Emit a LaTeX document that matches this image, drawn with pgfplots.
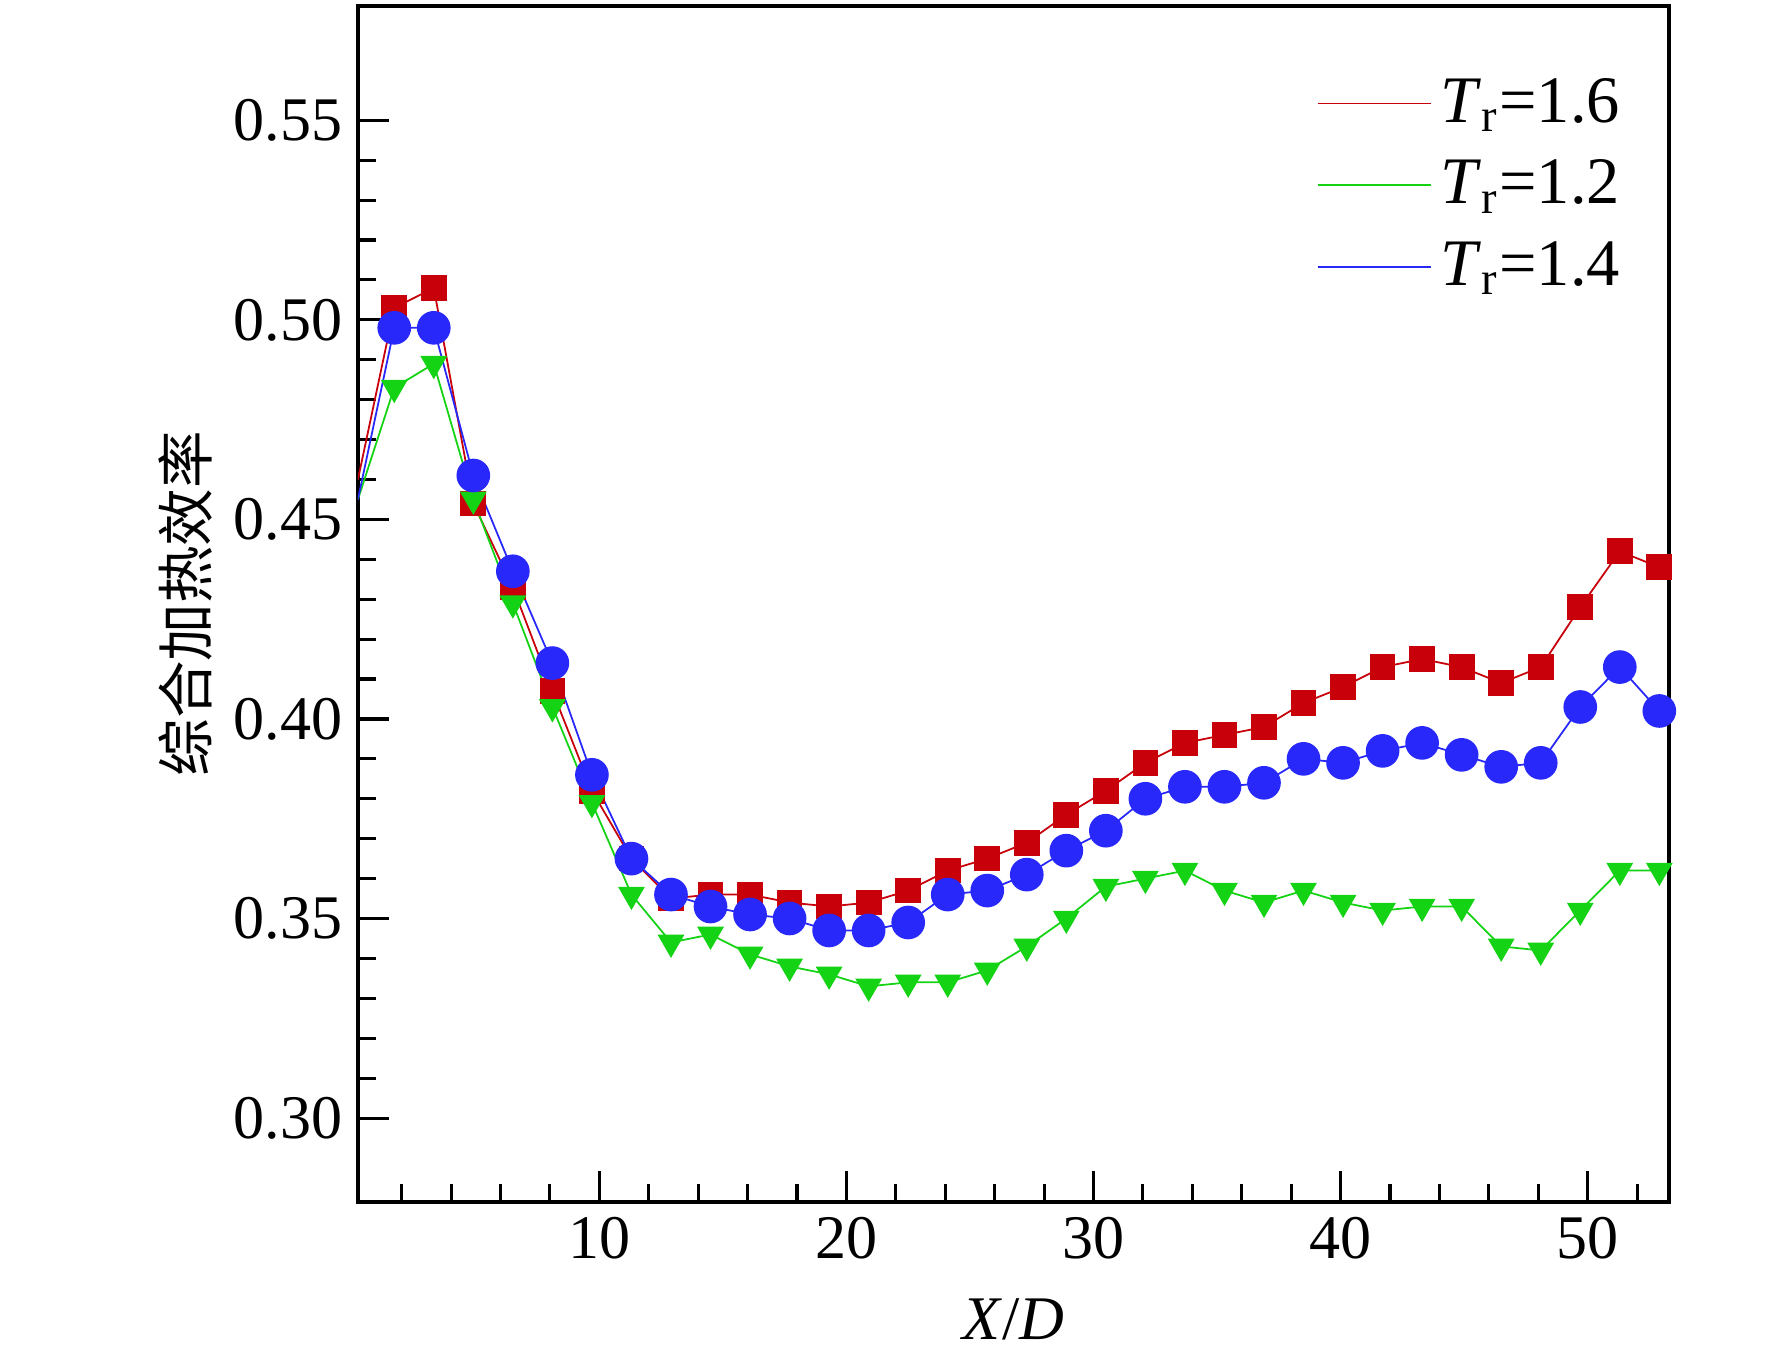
\documentclass[border=0pt]{standalone}
\usepackage{fontspec}
\setmainfont{Liberation Serif}
\newfontfamily\cjk{Noto Sans CJK SC}
\usepackage{pgfplots}
\pgfplotsset{compat=1.18}
\definecolor{cr}{RGB}{200,0,10}
\definecolor{cg}{RGB}{20,210,20}
\definecolor{cb}{RGB}{40,40,250}
\begin{document}
\begin{tikzpicture}
\begin{axis}[name=ax,
  width=296pt,height=270pt,scale only axis,
  xmin=0.23,xmax=53.3,ymin=0.279,ymax=0.5787,
  xtick={10,20,30,40,50},
  minor xtick={2,4,6,8,12,14,16,18,22,24,26,28,32,34,36,38,42,44,46,48,52},
  ytick={0.30,0.35,0.40,0.45,0.50,0.55},minor y tick num=4,
  yticklabel style={/pgf/number format/.cd,fixed,fixed zerofill,precision=2},
  /pgf/number format/assume math mode=true,
  tick align=inside,tick style={black,line width=0.7pt},
  major tick length=7pt,minor tick length=4pt,
  axis line style={line width=0.9pt},
  xtick pos=bottom,ytick pos=left,
  ticklabel style={font=\fontsize{14}{16}\selectfont},
  xlabel={\textit{X}/\textit{D}},xlabel style={font=\fontsize{14}{16}\selectfont,yshift=-2pt},
  ylabel={\cjk 综合加热效率},ylabel style={font=\fontsize{13}{16}\selectfont,yshift=-2pt},
  legend style={draw=none,fill=none,at={(0.98,0.955)},anchor=north east,font=\fontsize{15}{17}\selectfont,row sep=3pt},
  legend cell align=left,
  legend image code/.code={\draw[#1,line width=0.4pt] (0cm,0cm) -- (0.9cm,0cm); \draw[#1,only marks] plot coordinates {(0.45cm,0cm)};},
]
\addplot[cr,line width=0.4pt,mark=square*,mark size=2.7pt,mark options={fill=cr},mark phase=2] coordinates {
(0.23,0.460)(1.7,0.503)(3.3,0.508)(4.9,0.454)(6.5,0.433)(8.1,0.407)(9.7,0.382)(11.3,0.365)(12.9,0.355)(14.5,0.356)(16.1,0.356)(17.7,0.354)(19.3,0.353)(20.9,0.354)(22.5,0.357)(24.1,0.362)(25.7,0.365)(27.3,0.369)(28.9,0.376)(30.5,0.382)(32.1,0.389)(33.7,0.394)(35.3,0.396)(36.9,0.398)(38.5,0.404)(40.1,0.408)(41.7,0.413)(43.3,0.415)(44.9,0.413)(46.5,0.409)(48.1,0.413)(49.7,0.428)(51.3,0.442)(52.9,0.438)};
\addlegendentry{\textit{T}\textsubscript{r}=1.6}
\addplot[cg,line width=0.4pt,mark=triangle*,mark size=3.1pt,mark options={fill=cg,rotate=180},mark phase=2] coordinates {
(0.23,0.455)(1.7,0.483)(3.3,0.489)(4.9,0.455)(6.5,0.429)(8.1,0.403)(9.7,0.379)(11.3,0.356)(12.9,0.344)(14.5,0.346)(16.1,0.341)(17.7,0.338)(19.3,0.336)(20.9,0.333)(22.5,0.334)(24.1,0.334)(25.7,0.337)(27.3,0.343)(28.9,0.350)(30.5,0.358)(32.1,0.360)(33.7,0.362)(35.3,0.357)(36.9,0.354)(38.5,0.357)(40.1,0.354)(41.7,0.352)(43.3,0.353)(44.9,0.353)(46.5,0.343)(48.1,0.342)(49.7,0.352)(51.3,0.362)(52.9,0.362)};
\addlegendentry{\textit{T}\textsubscript{r}=1.2}
\addplot[cb,line width=0.4pt,mark=*,mark size=3.6pt,mark options={fill=cb},mark phase=2] coordinates {
(0.23,0.455)(1.7,0.498)(3.3,0.498)(4.9,0.461)(6.5,0.437)(8.1,0.414)(9.7,0.386)(11.3,0.365)(12.9,0.356)(14.5,0.353)(16.1,0.351)(17.7,0.350)(19.3,0.347)(20.9,0.347)(22.5,0.349)(24.1,0.356)(25.7,0.357)(27.3,0.361)(28.9,0.367)(30.5,0.372)(32.1,0.380)(33.7,0.383)(35.3,0.383)(36.9,0.384)(38.5,0.390)(40.1,0.389)(41.7,0.392)(43.3,0.394)(44.9,0.391)(46.5,0.388)(48.1,0.389)(49.7,0.403)(51.3,0.413)(52.9,0.402)};
\addlegendentry{\textit{T}\textsubscript{r}=1.4}
\end{axis}
\pgfresetboundingbox
\path (ax.south west) ++(-80.8pt,-34.8pt) coordinate (a);
\path (ax.north east) ++(23.2pt,1.3pt) coordinate (b);
\useasboundingbox (a) rectangle (b);
\end{tikzpicture}
\end{document}
